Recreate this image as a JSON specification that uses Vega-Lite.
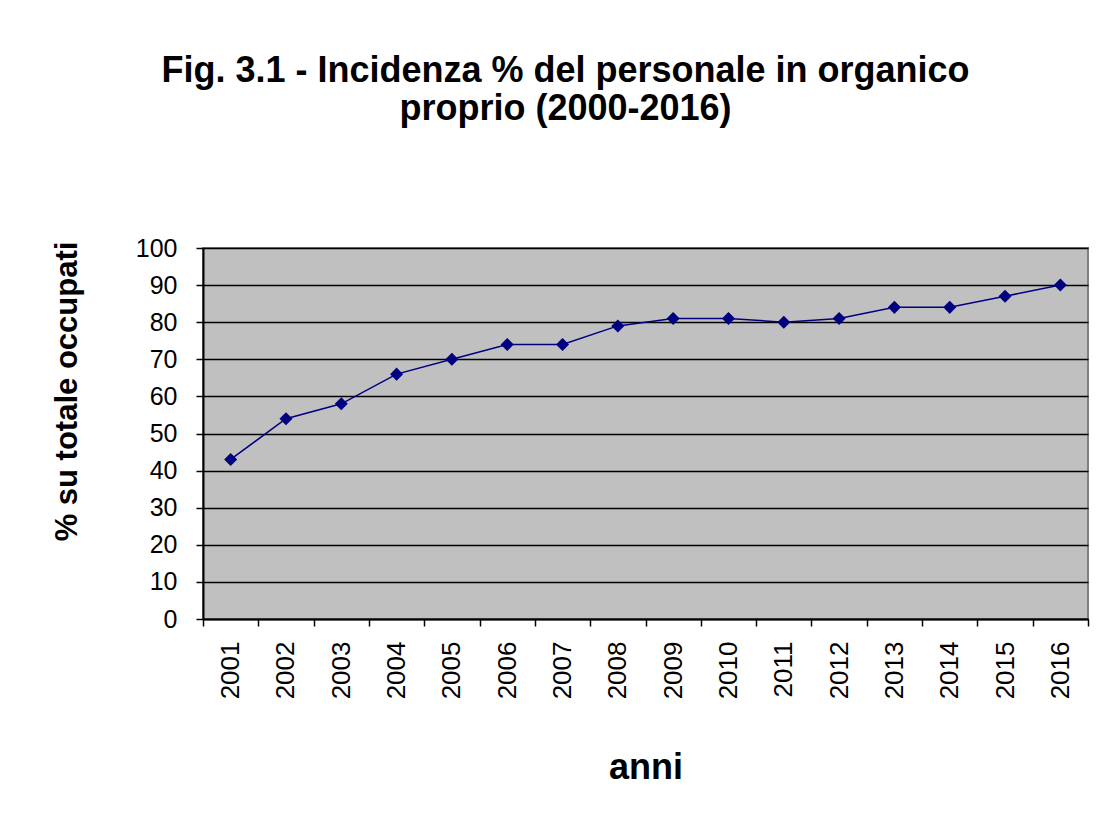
{
  "$schema": "https://vega.github.io/schema/vega-lite/v6.json",
  "width": 885,
  "height": 371,
  "autosize": "none",
  "padding": {"left": 203, "top": 248, "right": 14, "bottom": 211},
  "background": "white",
  "title": {
    "text": ["Fig. 3.1 - Incidenza % del personale in organico", "proprio (2000-2016)"],
    "font": "Liberation Sans",
    "fontSize": 36,
    "fontWeight": "bold",
    "color": "black",
    "anchor": "middle",
    "dx": -80,
    "lineHeight": 38,
    "offset": 108
  },
  "data": {
    "values": [
      {"anno": "2001", "valore": 43},
      {"anno": "2002", "valore": 54},
      {"anno": "2003", "valore": 58},
      {"anno": "2004", "valore": 66},
      {"anno": "2005", "valore": 70},
      {"anno": "2006", "valore": 74},
      {"anno": "2007", "valore": 74},
      {"anno": "2008", "valore": 79},
      {"anno": "2009", "valore": 81},
      {"anno": "2010", "valore": 81},
      {"anno": "2011", "valore": 80},
      {"anno": "2012", "valore": 81},
      {"anno": "2013", "valore": 84},
      {"anno": "2014", "valore": 84},
      {"anno": "2015", "valore": 87},
      {"anno": "2016", "valore": 90}
    ]
  },
  "encoding": {
    "x": {
      "field": "anno",
      "type": "ordinal",
      "scale": {"paddingInner": 0, "paddingOuter": 0},
      "axis": {
        "title": "anni",
        "titleFont": "Liberation Sans",
        "titleFontSize": 36,
        "titleFontWeight": "bold",
        "titleColor": "black",
        "titlePadding": 52,
        "labelAngle": 270,
        "labelFont": "Liberation Sans",
        "labelFontSize": 26,
        "labelColor": "black",
        "labelPadding": 15,
        "tickBand": "extent",
        "tickSize": 7,
        "tickColor": "black",
        "tickWidth": 1.5,
        "domainColor": "black",
        "domainWidth": 2,
        "grid": false
      }
    },
    "y": {
      "field": "valore",
      "type": "quantitative",
      "scale": {"domain": [0, 100], "nice": false},
      "axis": {
        "title": "% su totale occupati",
        "titleFont": "Liberation Sans",
        "titleFontSize": 31,
        "titleFontWeight": "bold",
        "titleColor": "black",
        "titlePadding": 52,
        "titleY": 143,
        "titleAlign": "center",
        "values": [0, 10, 20, 30, 40, 50, 60, 70, 80, 90, 100],
        "labelFont": "Liberation Sans",
        "labelFontSize": 25,
        "labelColor": "black",
        "labelPadding": 19,
        "tickSize": 7,
        "tickColor": "black",
        "tickWidth": 1.5,
        "domainColor": "black",
        "domainWidth": 2,
        "grid": true,
        "gridColor": "black",
        "gridWidth": 1.5,
        "gridOpacity": 1
      }
    }
  },
  "layer": [
    {
      "mark": {"type": "line", "color": "#000080", "strokeWidth": 1.5}
    },
    {
      "mark": {"type": "point", "shape": "diamond", "filled": true, "color": "#000080", "size": 170, "opacity": 1}
    }
  ],
  "config": {
    "view": {"fill": "#C0C0C0", "stroke": "#808080", "strokeWidth": 2}
  }
}
